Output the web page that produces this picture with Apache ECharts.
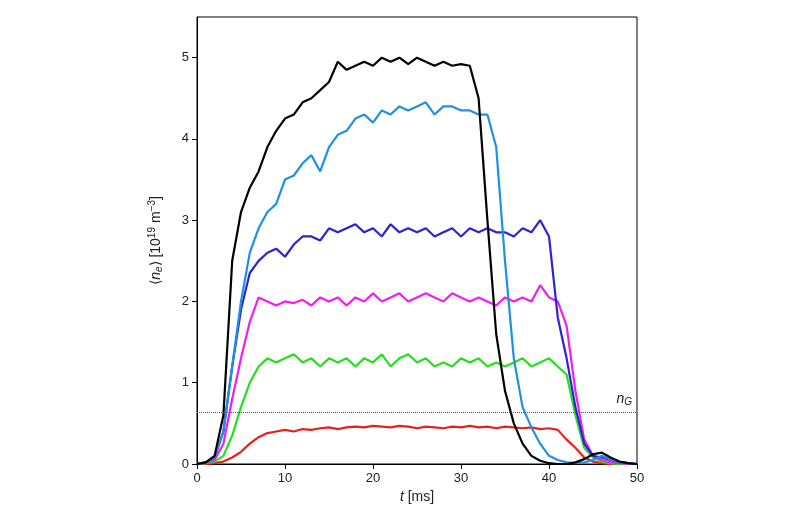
<!DOCTYPE html>
<html>
<head>
<meta charset="utf-8">
<script src="https://cdn.jsdelivr.net/npm/echarts@6/dist/echarts.min.js"></script>
<style>html,body{margin:0;background:#fff}#main{width:800px;height:530px}</style>
</head>
<body>
<div id="main"></div>
<script>
var times = [];
for (var i = 0; i <= 50; i++) times.push(i);

var black = [0,0.02,0.1,0.6,2.5,3.1,3.4,3.6,3.9,4.1,4.25,4.3,4.45,4.5,4.6,4.7,4.95,4.85,4.9,4.95,4.9,5.0,4.95,5.0,4.92,5.0,4.95,4.9,4.95,4.9,4.92,4.9,4.5,3.0,1.6,0.9,0.5,0.25,0.1,0.04,0.01,0,0,0.02,0.06,0.12,0.14,0.08,0.03,0.01,0];
var lightBlue = [0,0.02,0.08,0.4,1.2,2.0,2.6,2.9,3.1,3.2,3.5,3.55,3.7,3.8,3.6,3.9,4.05,4.1,4.25,4.3,4.2,4.35,4.3,4.4,4.35,4.4,4.45,4.3,4.4,4.4,4.35,4.35,4.3,4.3,3.9,2.5,1.3,0.7,0.45,0.25,0.1,0.05,0.02,0.01,0.02,0.05,0.1,0.06,0.02,0.01,0];
var blue = [0,0.02,0.08,0.4,1.2,1.9,2.35,2.5,2.6,2.65,2.55,2.7,2.8,2.8,2.75,2.9,2.85,2.9,2.95,2.85,2.9,2.8,2.95,2.85,2.9,2.85,2.9,2.8,2.85,2.9,2.8,2.9,2.85,2.9,2.85,2.85,2.8,2.9,2.85,3.0,2.8,1.8,1.3,0.7,0.25,0.1,0.08,0.05,0.02,0.01,0];
var magenta = [0,0.02,0.05,0.25,0.8,1.3,1.75,2.05,2.0,1.95,2.0,1.98,2.02,1.95,2.05,2.0,2.05,1.95,2.05,2.0,2.1,2.0,2.05,2.1,2.0,2.05,2.1,2.05,2.0,2.1,2.05,2.0,2.05,2.0,1.95,2.05,2.0,2.05,2.0,2.2,2.05,2.0,1.7,0.9,0.3,0.1,0.05,0.02,0.01,0,0];
var green = [0,0.01,0.03,0.1,0.35,0.7,1.0,1.2,1.3,1.25,1.3,1.35,1.25,1.3,1.2,1.3,1.25,1.3,1.2,1.3,1.25,1.35,1.2,1.3,1.35,1.25,1.3,1.2,1.25,1.2,1.3,1.25,1.3,1.2,1.25,1.2,1.25,1.3,1.2,1.25,1.3,1.2,1.1,0.6,0.2,0.08,0.03,0.01,0,0,0];
var red = [0,0,0.01,0.03,0.08,0.15,0.25,0.33,0.38,0.4,0.42,0.4,0.43,0.42,0.44,0.45,0.43,0.45,0.46,0.45,0.47,0.46,0.45,0.47,0.46,0.44,0.46,0.45,0.44,0.46,0.45,0.47,0.45,0.46,0.44,0.46,0.45,0.44,0.45,0.43,0.44,0.42,0.3,0.2,0.08,0.03,0.01,0,0,0,0];
var greenwald = 0.64;

function pairs(v) {
    return times.map(function (t, i) { return [t, v[i]]; });
}
function line(name, v, color) {
    return {name: name, type: 'line', data: pairs(v), showSymbol: false,
        lineStyle: {color: color, width: 2.2}, itemStyle: {color: color}, z: 2};
}

var series = [
    line('red', red, '#e8201a'),
    line('green', green, '#22e01c'),
    line('magenta', magenta, '#f01ef0'),
    line('blue', blue, '#2a22d6'),
    line('lightblue', lightBlue, '#1f90e2'),
    line('black', black, '#000000')
];
series[0].markLine = {
    symbol: 'none', silent: true,
    lineStyle: {color: '#555', type: 'dotted', width: 1},
    label: {position: 'insideEndTop', formatter: '{i|n}{s|G}', rich: {
        i: {fontStyle: 'italic', fontSize: 14, color: '#222'},
        s: {fontStyle: 'italic', fontSize: 10, color: '#222', padding: [6, 0, 0, 0]}}},
    data: [{yAxis: greenwald}]
};

var rich = {
    i: {fontStyle: 'italic', fontSize: 14, color: '#222'},
    s: {fontStyle: 'italic', fontSize: 10, color: '#222', padding: [6, 0, 0, 0]},
    p: {fontSize: 10, color: '#222', padding: [0, 0, 8, 0]}
};

var chart = echarts.init(document.getElementById('main'));
chart.setOption({
    animation: false,
    grid: {left: 197, right: 163, top: 17, bottom: 66, show: true, borderColor: '#000', borderWidth: 1},
    xAxis: {
        type: 'value', min: 0, max: 50, interval: 10,
        axisLine: {lineStyle: {color: '#000'}},
        axisTick: {inside: false, lineStyle: {color: '#000'}},
        axisLabel: {color: '#222', fontSize: 13},
        splitLine: {show: false},
        name: '{i|t} [ms]', nameLocation: 'middle', nameGap: 26,
        nameTextStyle: {fontSize: 14, color: '#222', rich: rich}
    },
    yAxis: {
        type: 'value', min: 0, max: 5.5, interval: 1,
        axisLine: {lineStyle: {color: '#000'}},
        axisTick: {inside: false, lineStyle: {color: '#000'}},
        axisLabel: {color: '#222', fontSize: 13, showMaxLabel: false},
        splitLine: {show: false},
        name: '⟨{i|n}{s|e}⟩ [10{p|19} m{p|−3}]', nameLocation: 'middle', nameGap: 32,
        nameTextStyle: {fontSize: 14, color: '#222', rich: rich}
    },
    series: series
});
</script>
</body>
</html>
